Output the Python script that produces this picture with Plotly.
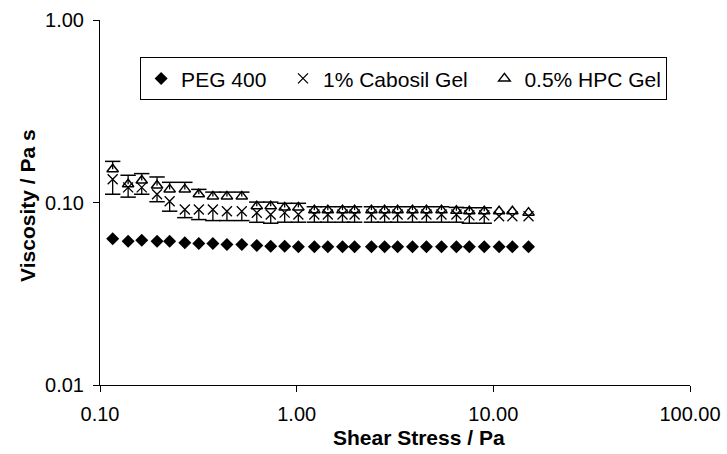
import plotly.graph_objects as go

# Shear stress (Pa)
shear_stress = [0.116, 0.139, 0.163, 0.195, 0.226, 0.270, 0.318, 0.375, 0.442, 0.526,
                0.627, 0.738, 0.869, 1.02, 1.23, 1.44, 1.71, 1.97, 2.40, 2.80,
                3.26, 3.88, 4.57, 5.45, 6.49, 7.55, 8.99, 10.7, 12.5, 15.1]

# Viscosity (Pa s)
peg400 = [0.0633, 0.0614, 0.0621, 0.0614, 0.0614, 0.0601, 0.0596, 0.0596, 0.0589, 0.0589,
          0.0581, 0.0576, 0.0576, 0.0572, 0.0572, 0.0572, 0.0572, 0.0572, 0.0572, 0.0572,
          0.0572, 0.0572, 0.0572, 0.0572, 0.0572, 0.0572, 0.0572, 0.0572, 0.0572, 0.0572]

cabosil = [0.134, 0.121, 0.121, 0.111, 0.1016, 0.0916, 0.0916, 0.0916, 0.0896, 0.0896,
           0.0879, 0.0860, 0.0880, 0.0860, 0.0860, 0.0860, 0.0860, 0.0860, 0.0860, 0.0860,
           0.0860, 0.0860, 0.0860, 0.0860, 0.0860, 0.0850, 0.0850, 0.0841, 0.0841, 0.0841]
cabosil_err_minus = [0.023, 0.014, 0.010, 0.010, 0.012, 0.009, 0.011, 0.012, 0.010, 0.010,
                     0.010, 0.009, 0.010, 0.008, 0.008, 0.008, 0.008, 0.008, 0.008, 0.008,
                     0.008, 0.008, 0.008, 0.008, 0.008, 0.008, 0.008, 0.0, 0.0, 0.0]

hpc = [0.152, 0.126, 0.132, 0.124, 0.118, 0.118, 0.111, 0.108, 0.108, 0.108,
       0.0955, 0.0955, 0.094, 0.094, 0.0908, 0.0908, 0.0908, 0.0908, 0.0908, 0.0908,
       0.0908, 0.0908, 0.0908, 0.0908, 0.0900, 0.0896, 0.0896, 0.0896, 0.0896, 0.0880]
hpc_err_plus = [0.016, 0.015, 0.012, 0.014, 0.011, 0.011, 0.007, 0.006, 0.006, 0.006,
                0.005, 0.005, 0.005, 0.005, 0.004, 0.004, 0.004, 0.004, 0.004, 0.004,
                0.004, 0.004, 0.004, 0.004, 0.004, 0.004, 0.004, 0.0, 0.0, 0.0]

x_ticks = [0.1, 1, 10, 100]
x_ticktext = ["0.10", "1.00", "10.00", "100.00"]
y_ticks = [0.01, 0.1, 1]
y_ticktext = ["0.01", "0.10", "1.00"]

FONT = "Liberation Sans, Arial, sans-serif"
BLACK = "#000000"
NB = "\u00a0"

fig = go.Figure()

# PEG 400
fig.add_trace(go.Scatter(
    x=shear_stress, y=peg400, mode="markers", name="PEG 400" + NB * 2,
    marker=dict(symbol="diamond", size=10, color=BLACK),
))

# 1% Cabosil Gel with minus error bars (caps drawn separately)
fig.add_trace(go.Scatter(
    x=shear_stress, y=cabosil, mode="markers", name="1% Cabosil Gel" + NB * 2,
    marker=dict(symbol="x-thin-open", size=10, color=BLACK, line=dict(width=1.3, color=BLACK)),
    error_y=dict(type="data", symmetric=False, array=[0] * len(cabosil),
                 arrayminus=cabosil_err_minus, width=0, thickness=1.3, color=BLACK),
))
cab_caps_x = [x for x, e in zip(shear_stress, cabosil_err_minus) if e > 0]
cab_caps_y = [v - e for v, e in zip(cabosil, cabosil_err_minus) if e > 0]
fig.add_trace(go.Scatter(
    x=cab_caps_x, y=cab_caps_y, mode="markers", showlegend=False, hoverinfo="skip",
    marker=dict(symbol="line-ew", size=11, color=BLACK, line=dict(width=1.5, color=BLACK)),
))

# 0.5% HPC Gel with plus error bars
fig.add_trace(go.Scatter(
    x=shear_stress, y=hpc, mode="markers", name="0.5% HPC Gel",
    marker=dict(symbol="triangle-up-open", size=10, color=BLACK, line=dict(width=1.5, color=BLACK)),
    error_y=dict(type="data", symmetric=False, array=hpc_err_plus,
                 arrayminus=[0] * len(hpc), width=0, thickness=1.3, color=BLACK),
))
hpc_caps_x = [x for x, e in zip(shear_stress, hpc_err_plus) if e > 0]
hpc_caps_y = [v + e for v, e in zip(hpc, hpc_err_plus) if e > 0]
fig.add_trace(go.Scatter(
    x=hpc_caps_x, y=hpc_caps_y, mode="markers", showlegend=False, hoverinfo="skip",
    marker=dict(symbol="line-ew", size=11, color=BLACK, line=dict(width=1.5, color=BLACK)),
))

fig.update_layout(
    width=727, height=454,
    margin=dict(l=100, r=37, t=20, b=69, pad=0),
    paper_bgcolor="white", plot_bgcolor="white",
    font=dict(family=FONT, size=20, color=BLACK),
    showlegend=True,
    legend=dict(
        orientation="h", x=0.068, y=0.839, xanchor="left", yanchor="middle",
        bordercolor=BLACK, borderwidth=1, bgcolor="white",
        font=dict(family=FONT, size=21, color=BLACK),
        itemsizing="trace",
    ),
    annotations=[
        dict(text="<b>Shear Stress / Pa</b>", xref="paper", yref="paper",
             x=0.54, y=-0.145, xanchor="center", yanchor="middle", showarrow=False,
             font=dict(family=FONT, size=21, color=BLACK)),
        dict(text="<b>Viscosity / Pa s</b>", xref="paper", yref="paper",
             x=-0.124, y=0.493, xanchor="center", yanchor="middle", showarrow=False,
             textangle=-90, font=dict(family=FONT, size=21, color=BLACK)),
    ],
)

fig.update_xaxes(
    type="log", range=[-1, 2], tickvals=x_ticks, ticktext=x_ticktext,
    automargin=False,
    showline=True, linecolor=BLACK, linewidth=1, mirror=False,
    showgrid=False, zeroline=False,
    ticks="outside", ticklen=6, tickwidth=1, tickcolor=BLACK,
    ticklabelstandoff=5,
    tickfont=dict(family=FONT, size=20, color=BLACK),
)
fig.update_yaxes(
    type="log", range=[-2, 0], tickvals=y_ticks, ticktext=y_ticktext,
    automargin=False,
    showline=True, linecolor=BLACK, linewidth=1, mirror=False,
    showgrid=False, zeroline=False,
    ticks="outside", ticklen=6, tickwidth=1, tickcolor=BLACK,
    ticklabelstandoff=5,
    tickfont=dict(family=FONT, size=20, color=BLACK),
)

fig.write_html("out.html")
